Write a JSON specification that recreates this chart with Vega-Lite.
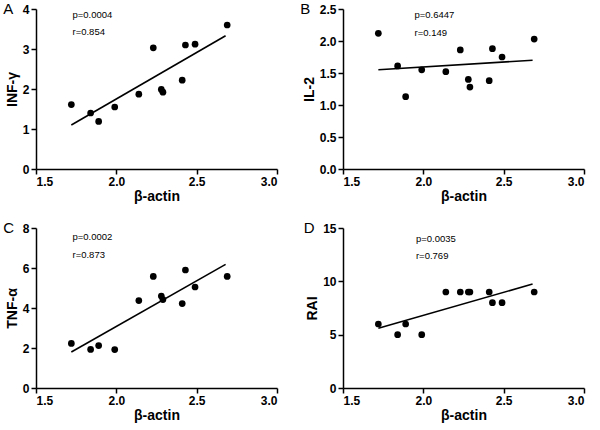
{
  "$schema": "https://vega.github.io/schema/vega-lite/v6.json",
  "background": "white",
  "padding": {"left": 3, "top": 2, "right": 5, "bottom": 2},
  "datasets": {
    "pts": [
      {"x": 1.72, "inf": 1.61, "il2": 2.12, "tnf": 2.23, "rai": 6},
      {"x": 1.84, "inf": 1.40, "il2": 1.61, "tnf": 1.93, "rai": 5},
      {"x": 1.89, "inf": 1.19, "il2": 1.13, "tnf": 2.12, "rai": 6},
      {"x": 1.99, "inf": 1.55, "il2": 1.55, "tnf": 1.92, "rai": 5},
      {"x": 2.14, "inf": 1.87, "il2": 1.52, "tnf": 4.37, "rai": 9},
      {"x": 2.23, "inf": 3.03, "il2": 1.86, "tnf": 5.58, "rai": 9},
      {"x": 2.28, "inf": 1.99, "il2": 1.40, "tnf": 4.60, "rai": 9},
      {"x": 2.29, "inf": 1.92, "il2": 1.28, "tnf": 4.42, "rai": 9},
      {"x": 2.41, "inf": 2.22, "il2": 1.38, "tnf": 4.22, "rai": 9},
      {"x": 2.43, "inf": 3.10, "il2": 1.88, "tnf": 5.90, "rai": 8},
      {"x": 2.49, "inf": 3.12, "il2": 1.75, "tnf": 5.05, "rai": 8},
      {"x": 2.69, "inf": 3.60, "il2": 2.03, "tnf": 5.58, "rai": 9}
    ],
    "fit": [
      {"x": 1.72, "inf": 1.10, "il2": 1.55, "tnf": 1.80, "rai": 5.6},
      {"x": 2.68, "inf": 3.33, "il2": 1.70, "tnf": 6.18, "rai": 9.75}
    ]
  },
  "columns": 2,
  "spacing": {"row": 18, "column": 22},
  "concat": [
    {
      "width": 241, "height": 160,
      "title": {"text": "A", "anchor": "start", "frame": "bounds", "dy": 18, "dx": -2},
      "encoding": {
        "x": {"field": "x", "type": "quantitative", "scale": {"domain": [1.5, 3.0], "nice": false, "zero": false}, "axis": {"values": [1.5, 2.0, 2.5, 3.0], "format": ".1f", "title": "β-actin"}},
        "y": {"field": "inf", "type": "quantitative", "scale": {"domain": [0, 4], "nice": false}, "axis": {"values": [0, 1, 2, 3, 4], "title": "INF-γ"}}
      },
      "layer": [
        {"data": {"name": "pts"}, "mark": {"type": "circle", "size": 45, "opacity": 1, "color": "black"}},
        {"data": {"name": "fit"}, "mark": {"type": "line", "color": "black", "strokeWidth": 1.6}},
        {"data": {"values": [{"x": 1.727, "inf": 3.85, "t": "p=0.0004"}, {"x": 1.727, "inf": 3.42, "t": "r=0.854"}]}, "mark": {"type": "text", "align": "left", "baseline": "middle", "fontSize": 9.5, "font": "Liberation Sans"},
         "encoding": {"text": {"field": "t"}}}
      ]
    },
    {
      "width": 241, "height": 160,
      "title": {"text": "B", "anchor": "start", "frame": "bounds", "dy": 18, "dx": -2},
      "encoding": {
        "x": {"field": "x", "type": "quantitative", "scale": {"domain": [1.5, 3.0], "nice": false, "zero": false}, "axis": {"values": [1.5, 2.0, 2.5, 3.0], "format": ".1f", "title": "β-actin"}},
        "y": {"field": "il2", "type": "quantitative", "scale": {"domain": [0, 2.5], "nice": false}, "axis": {"values": [0, 0.5, 1, 1.5, 2, 2.5], "format": ".1f", "title": "IL-2"}}
      },
      "layer": [
        {"data": {"name": "pts"}, "mark": {"type": "circle", "size": 45, "opacity": 1, "color": "black"}},
        {"data": {"name": "fit"}, "mark": {"type": "line", "color": "black", "strokeWidth": 1.6}},
        {"data": {"values": [{"x": 1.945, "il2": 2.40, "t": "p=0.6447"}, {"x": 1.945, "il2": 2.125, "t": "r=0.149"}]}, "mark": {"type": "text", "align": "left", "baseline": "middle", "fontSize": 9.5, "font": "Liberation Sans"},
         "encoding": {"text": {"field": "t"}}}
      ]
    },
    {
      "width": 241, "height": 160,
      "title": {"text": "C", "anchor": "start", "frame": "bounds", "dy": 18, "dx": -2},
      "encoding": {
        "x": {"field": "x", "type": "quantitative", "scale": {"domain": [1.5, 3.0], "nice": false, "zero": false}, "axis": {"values": [1.5, 2.0, 2.5, 3.0], "format": ".1f", "title": "β-actin"}},
        "y": {"field": "tnf", "type": "quantitative", "scale": {"domain": [0, 8], "nice": false}, "axis": {"values": [0, 2, 4, 6, 8], "title": "TNF-α"}}
      },
      "layer": [
        {"data": {"name": "pts"}, "mark": {"type": "circle", "size": 45, "opacity": 1, "color": "black"}},
        {"data": {"name": "fit"}, "mark": {"type": "line", "color": "black", "strokeWidth": 1.6}},
        {"data": {"values": [{"x": 1.727, "tnf": 7.53, "t": "p=0.0002"}, {"x": 1.727, "tnf": 6.67, "t": "r=0.873"}]}, "mark": {"type": "text", "align": "left", "baseline": "middle", "fontSize": 9.5, "font": "Liberation Sans"},
         "encoding": {"text": {"field": "t"}}}
      ]
    },
    {
      "width": 241, "height": 160,
      "title": {"text": "D", "anchor": "start", "frame": "bounds", "dy": 18, "dx": -2},
      "encoding": {
        "x": {"field": "x", "type": "quantitative", "scale": {"domain": [1.5, 3.0], "nice": false, "zero": false}, "axis": {"values": [1.5, 2.0, 2.5, 3.0], "format": ".1f", "title": "β-actin"}},
        "y": {"field": "rai", "type": "quantitative", "scale": {"domain": [0, 15], "nice": false}, "axis": {"values": [0, 5, 10, 15], "title": "RAI"}}
      },
      "layer": [
        {"data": {"name": "pts"}, "mark": {"type": "circle", "size": 45, "opacity": 1, "color": "black"}},
        {"data": {"name": "fit"}, "mark": {"type": "line", "color": "black", "strokeWidth": 1.6}},
        {"data": {"values": [{"x": 1.954, "rai": 13.95, "t": "p=0.0035"}, {"x": 1.954, "rai": 12.35, "t": "r=0.769"}]}, "mark": {"type": "text", "align": "left", "baseline": "middle", "fontSize": 9.5, "font": "Liberation Sans"},
         "encoding": {"text": {"field": "t"}}}
      ]
    }
  ],
  "config": {
    "font": "Liberation Sans",
    "view": {"stroke": null},
    "title": {"fontSize": 15, "fontWeight": "normal", "color": "black", "font": "Liberation Sans", "offset": 0},
    "axis": {
      "grid": false,
      "labelOverlap": false,
      "domainColor": "black", "domainWidth": 1.5,
      "tickColor": "black", "tickWidth": 1.5, "tickSize": 5,
      "labelFont": "Liberation Sans", "labelFontWeight": "bold", "labelFontSize": 12, "labelColor": "black", "labelPadding": 2,
      "titleFont": "Liberation Sans", "titleFontWeight": "bold", "titleFontSize": 14, "titleColor": "black"
    },
    "axisX": {"titlePadding": 2},
    "axisY": {"titlePadding": 3}
  }
}
